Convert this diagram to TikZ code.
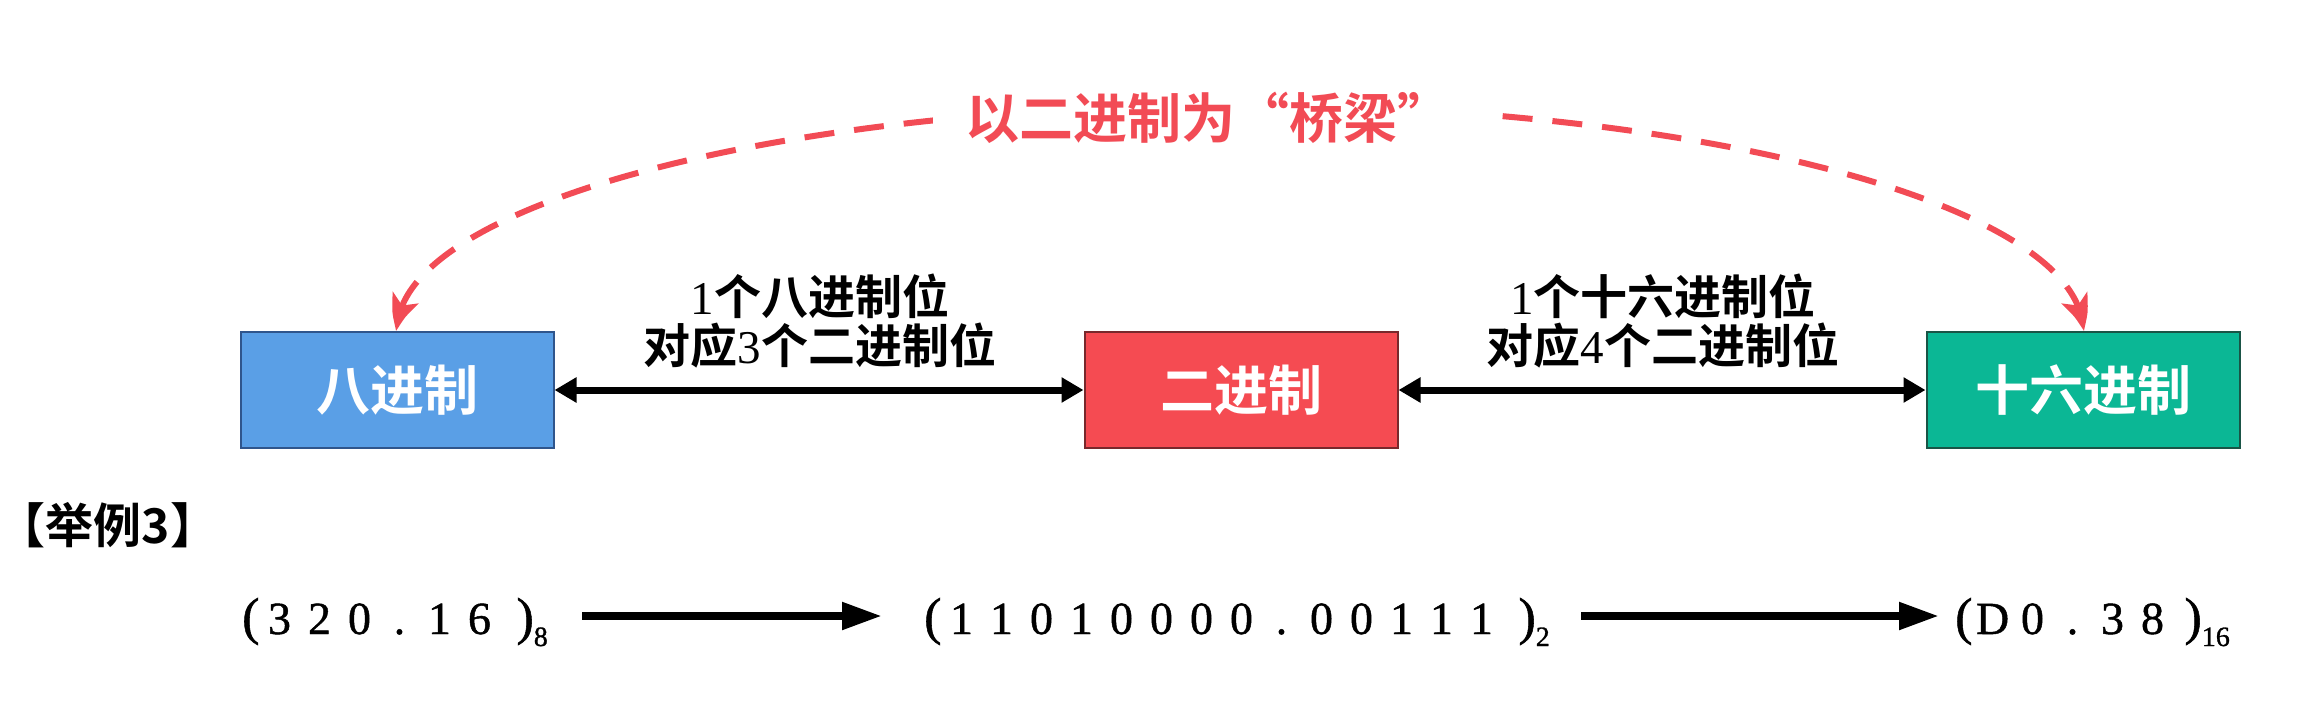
\documentclass[tikz,border=0pt]{standalone}
\usepackage{fontspec}
\newfontfamily\cjkb{Noto Sans CJK SC Bold}
\newfontfamily\tnr{Liberation Serif}
\newfontfamily\numf{Liberation Serif}[FakeBold=1]
\usetikzlibrary{arrows.meta,bending}
\definecolor{bblue}{RGB}{90,159,230}
\definecolor{bblueD}{RGB}{47,85,140}
\definecolor{bred}{RGB}{245,75,82}
\definecolor{bredD}{RGB}{120,40,44}
\definecolor{bgreen}{RGB}{11,183,149}
\definecolor{bgreenD}{RGB}{26,84,70}
\definecolor{tred}{RGB}{242,75,85}
\newcommand{\cell}[1]{\makebox[40pt]{#1}}
\newcommand{\lp}{{\fontsize{52}{52}\selectfont(}}
\newcommand{\rp}{{\fontsize{52}{52}\selectfont)}}
\newcommand{\subs}[1]{\raisebox{-12pt}{\fontsize{28}{28}\selectfont #1}}
\begin{document}
\begin{tikzpicture}[x=1pt,y=-1pt,
  box/.style={rectangle, minimum width=313pt, minimum height=116pt, line width=2pt,
    font=\cjkb\fontsize{54}{54}\selectfont, text=white, inner sep=0pt},
  lbl/.style={font=\cjkb\fontsize{47}{49}\selectfont, align=center, inner sep=0pt},
  dbl/.style={line width=7pt, {Triangle[length=22pt,width=24pt]}-{Triangle[length=22pt,width=24pt]}},
  conv/.style={line width=8pt, -{Triangle[length=40pt,width=26pt]}},
  bridge/.style={draw=tred, line width=6pt, dash pattern=on 30pt off 20pt,
    {Stealth[length=34pt,width=28pt,inset=8pt,bend]}-{Stealth[length=34pt,width=28pt,inset=8pt,bend]}},
  num/.style={font=\numf\fontsize{46}{46}\selectfont, inner sep=0pt, anchor=base west}
]
\useasboundingbox (0,0) rectangle (2307,704);

\node[box, fill=bblue, draw=bblueD] (b1) at (397,390) {八进制};
\node[box, fill=bred, draw=bredD] (b2) at (1241,390) {二进制};
\node[box, fill=bgreen, draw=bgreenD] (b3) at (2083,390) {十六进制};

\draw[dbl] (b1.east) -- (b2.west);
\draw[dbl] (b2.east) -- (b3.west);

\node[lbl] (l1) at (820,321) {{\tnr 1}个八进制位\\对应{\tnr 3}个二进制位};
\node[lbl] (l2) at (1663,321) {{\tnr 1}个十六进制位\\对应{\tnr 4}个二进制位};

\draw[bridge] (b1.north) arc[start angle=180, end angle=0, x radius=843pt, y radius=226pt];
\node[font=\cjkb\fontsize{54}{54}\selectfont, text=tred, fill=white, inner xsep=32pt, inner ysep=8pt] (t) at (1208,118) {以二进制为“桥梁”};

\node[font=\cjkb\fontsize{48}{48}\selectfont, inner sep=0pt] (ex) at (108,525) {【举例3】};

\node[num] (e1) at (242,634) {\lp\cell3\cell2\cell0\cell.\cell1\cell6\hspace{17pt}\rp\subs{8}};
\node[num] (e2) at (924,634) {\lp\cell1\cell1\cell0\cell1\cell0\cell0\cell0\cell0\cell.\cell0\cell0\cell1\cell1\cell1\hspace{17pt}\rp\subs{2}};
\node[num] (e3) at (1955,634) {\lp\cell D\cell0\cell.\cell3\cell8\hspace{12pt}\rp\subs{16}};

\coordinate (p1) at (582,616);
\coordinate (q1) at (882,616);
\coordinate (p2) at (1581,616);
\coordinate (q2) at (1939,616);
\draw[conv] (p1) -- (q1);
\draw[conv] (p2) -- (q2);
\end{tikzpicture}
\end{document}
